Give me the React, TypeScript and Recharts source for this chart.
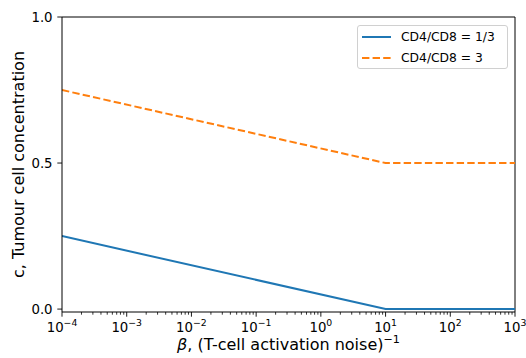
import React from "react";
import { LineChart, Line, XAxis, YAxis, ReferenceLine, Legend } from "recharts";

const xValues = [1e-4, 10, 1000];
const ratioThird = [0.25, 0, 0];
const ratioThree = [0.75, 0.5, 0.5];
const seriesNames = ["CD4/CD8 = 1/3", "CD4/CD8 = 3"];
const majorExps = [-4, -3, -2, -1, 0, 1, 2, 3];
const yTicks = [0, 0.5, 1.0];

const data = xValues.map((x, i) => ({ x, a: ratioThird[i], b: ratioThree[i] }));

const majorTicks = majorExps.map((e) => Math.pow(10, e));
const minorTicks: number[] = [];
for (let e = -4; e < 3; e++) {
  for (let m = 2; m <= 9; m++) minorTicks.push(m * Math.pow(10, e));
}
const allTicks = [...majorTicks, ...minorTicks].sort((p, q) => p - q);

const FONT = "DejaVu Sans, sans-serif";
const BLUE = "#1f77b4";
const ORANGE = "#ff7f0e";

const XTick = (props: any) => {
  const { x, y, payload } = props;
  const v = payload.value;
  const exp = Math.round(Math.log10(v));
  const isMajor = Math.abs(Math.pow(10, exp) - v) / v < 1e-6;
  if (!isMajor) {
    return <line x1={x} x2={x} y1={y} y2={y + 2.7} stroke="#000" strokeWidth={0.8} />;
  }
  const expStr = exp < 0 ? "\u2212" + Math.abs(exp) : String(exp);
  return (
    <g>
      <line x1={x} x2={x} y1={y} y2={y + 4.7} stroke="#000" strokeWidth={0.9} />
      <text x={x} y={y + 19.5} textAnchor="middle" fontFamily={FONT} fontSize={13.3} fill="#000">
        <tspan>10</tspan>
        <tspan dy={-5.5} fontSize={9.3}>{expStr}</tspan>
      </text>
    </g>
  );
};

const XLabel = (props: any) => {
  const vb = props.viewBox || {};
  const cx = vb.x + vb.width / 2;
  return (
    <text x={cx} y={350} textAnchor="middle" fontFamily={FONT} fontSize={16} fill="#000">
      <tspan fontStyle="italic">β</tspan>
      <tspan>, (T-cell activation noise)</tspan>
      <tspan dy={-7.5} fontSize={11.2}>{"\u22121"}</tspan>
    </text>
  );
};

const YLabel = (props: any) => {
  const vb = props.viewBox || {};
  const cy = vb.y + vb.height / 2;
  const bx = 24;
  return (
    <text
      x={bx}
      y={cy}
      transform={`rotate(-90, ${bx}, ${cy})`}
      textAnchor="middle"
      fontFamily={FONT}
      fontSize={16}
      fill="#000"
    >
      c, Tumour cell concentration
    </text>
  );
};

const LegendBox = () => (
  <div
    style={{
      boxSizing: "border-box",
      width: 151,
      height: 44,
      border: "1px solid #d0d0d0",
      borderRadius: 3,
      background: "rgba(255,255,255,0.8)",
      fontFamily: FONT,
      fontSize: 12.3,
      position: "relative",
    }}
  >
    {seriesNames.map((n, i) => (
      <div key={n} style={{ position: "absolute", left: 3, top: 2.5 + i * 21, height: 16, display: "flex", alignItems: "center" }}>
        <svg width={31} height={16} style={{ display: "block" }}>
          <line
            x1={1}
            x2={30}
            y1={8}
            y2={8}
            stroke={i === 0 ? BLUE : ORANGE}
            strokeWidth={2}
            strokeDasharray={i === 0 ? undefined : "7.4 3.2"}
          />
        </svg>
        <span style={{ marginLeft: 9, color: "#000", whiteSpace: "nowrap", lineHeight: "16px" }}>{n}</span>
      </div>
    ))}
  </div>
);

export default function App() {
  return (
    <div style={{ position: "absolute", left: 0, top: 0, background: "#fff" }}>
      <LineChart width={526} height={358} data={data} margin={{ top: 17, right: 11, bottom: 10, left: 10 }}>
        <XAxis
          dataKey="x"
          type="number"
          scale="log"
          domain={[1e-4, 1000]}
          allowDataOverflow
          ticks={allTicks}
          interval={0}
          tick={<XTick />}
          tickLine={false}
          tickSize={0}
          tickMargin={0}
          height={36}
          axisLine={{ stroke: "#000", strokeWidth: 1 }}
          label={<XLabel />}
        />
        <YAxis
          type="number"
          domain={[-0.01, 1]}
          allowDataOverflow
          ticks={yTicks}
          tickFormatter={(v: number) => v.toFixed(1)}
          width={52}
          tickSize={4.7}
          tickMargin={4.7}
          tick={{ fontFamily: FONT, fontSize: 13.3, fill: "#000" }}
          tickLine={{ stroke: "#000", strokeWidth: 0.9 }}
          axisLine={{ stroke: "#000", strokeWidth: 1 }}
          label={<YLabel />}
        />
        <ReferenceLine x={1000} stroke="#000" strokeWidth={1} />
        <ReferenceLine y={1} stroke="#000" strokeWidth={1} />
        <Line dataKey="a" name={seriesNames[0]} stroke={BLUE} strokeWidth={2} dot={false} isAnimationActive={false} />
        <Line
          dataKey="b"
          name={seriesNames[1]}
          stroke={ORANGE}
          strokeWidth={2}
          strokeDasharray="7.4 3.2"
          dot={false}
          isAnimationActive={false}
        />
        <Legend
          layout="vertical"
          align="center"
          verticalAlign="middle"
          width={151}
          wrapperStyle={{ left: 357, top: 25, width: 151, height: 44 }}
          content={<LegendBox />}
        />
      </LineChart>
    </div>
  );
}
